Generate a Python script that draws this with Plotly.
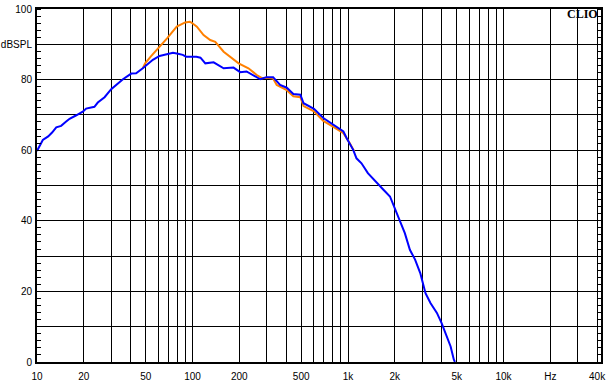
import plotly.graph_objects as go

# Blue curve (frequency Hz, dB SPL)
blue_freq = [10, 10.9, 11.8, 12.5, 13.3, 14.3, 15.4, 16.2, 17.9, 19.8, 20.7, 23.4, 24.6, 27.2,
             30.0, 32.3, 35.7, 40.4, 43.4, 47.9, 50.4, 55.6, 61.4, 69.4, 74.9, 80.6, 86.6, 91.0,
             105.9, 112.5, 120.9, 136.7, 158.6, 183.6, 202.7, 222.6, 272.6, 299, 330, 366, 404,
             445, 494, 518, 604, 694, 805, 934, 981, 1080, 1134, 1221, 1342, 1530, 1690, 1862,
             2000, 2150, 2320, 2500, 2700, 2915, 3150, 3390, 3730, 4000, 4340, 4570, 4790, 4870]
blue_db = [59.8, 62.9, 63.9, 65.0, 66.5, 66.9, 68.1, 68.9, 69.9, 71.0, 71.8, 72.3, 73.5, 75.0,
           77.3, 78.5, 80.1, 81.7, 81.8, 83.2, 84.1, 85.6, 86.7, 87.3, 87.6, 87.3, 87.0, 86.5,
           86.5, 86.2, 84.6, 84.9, 83.2, 83.4, 82.1, 82.3, 80.1, 80.7, 80.7, 78.5, 77.7,
           75.9, 75.7, 73.3, 71.7, 69.1, 67.2, 65.3, 63.4, 60.1, 57.7, 56.3, 53.5, 50.7, 48.8, 46.9,
           43.6, 40.3, 36.5, 31.8, 29.0, 25.2, 19.5, 16.7, 13.9, 11.0, 7.2, 4.4, 0.7, 0.0]

# Orange curve (frequency Hz, dB SPL)
orange_freq = [47.9, 49.6, 54, 59.0, 68.6, 79.2, 89.7, 96, 98.9, 106.7, 117.8, 130, 140.1, 158.6,
               179.5, 198, 229, 259, 280, 300, 330, 348, 404, 445, 494, 518, 604, 694, 805, 934,
               1027, 1100]
orange_db = [83.2, 84.6, 86.6, 88.4, 91.7, 95.0, 96.2, 96.4, 96.1, 95.0, 92.6, 91.2, 90.7, 87.9,
             86.0, 84.6, 83.2, 81.3, 80.4, 80.5, 80.3, 78.5, 77.0, 75.3, 75.0, 72.5, 71.0, 68.3,
             66.6, 64.8, 62.0, 59.6]

# Axis ticks
x_grid = [m * 10 ** e for e in range(1, 5) for m in range(1, 10) if m * 10 ** e <= 40000]
x_labels = {10: "10", 20: "20", 50: "50", 100: "100", 200: "200", 500: "500", 1000: "1k",
            2000: "2k", 5000: "5k", 10000: "10k", 20000: "Hz", 40000: "40k"}
x_text = [x_labels.get(v, "") for v in x_grid]
y_grid = list(range(0, 101, 10))
y_labels = {0: "0", 20: "20", 40: "40", 60: "60", 80: "80", 90: "dBSPL", 100: "100"}
y_text = [y_labels.get(v, "") for v in y_grid]

fig = go.Figure()
fig.add_trace(go.Scatter(x=orange_freq, y=orange_db, mode="lines",
                         line=dict(color="#FF8000", width=2), showlegend=False))
fig.add_trace(go.Scatter(x=blue_freq, y=blue_db, mode="lines",
                         line=dict(color="#0000FF", width=2), showlegend=False))

font = dict(family="Liberation Sans, Arial", size=10, color="black")
fig.update_layout(
    width=611, height=389,
    margin=dict(l=37, r=10, t=9, b=27, autoexpand=False),
    paper_bgcolor="white", plot_bgcolor="white",
    font=font,
    xaxis=dict(type="log", range=[1, 4.627], tickmode="array", tickvals=x_grid, ticktext=x_text,
               showgrid=True, gridcolor="black", gridwidth=1, ticks="", automargin=False,
               showline=True, linecolor="black", linewidth=2, mirror=True,
               zeroline=False, tickfont=font, ticklabelstandoff=4),
    yaxis=dict(range=[0, 100], tickmode="array", tickvals=y_grid, ticktext=y_text,
               showgrid=True, gridcolor="black", gridwidth=1, ticks="", automargin=False,
               showline=True, linecolor="black", linewidth=2, mirror="ticks",
               zeroline=False, tickfont=font, ticklabelstandoff=1,
               minor=dict(dtick=2, ticks="inside", ticklen=4, tickcolor="black", tickwidth=1,
                          showgrid=False)),
    annotations=[dict(text="<b>CLIO</b>", xref="paper", yref="paper", x=0.998, y=0.985,
                      xanchor="right", yanchor="middle", showarrow=False,
                      font=dict(family="Liberation Serif, Times New Roman", size=12, color="black"))],
)

fig.write_html("out.html", config={"displayModeBar": False},
               post_script="document.body.style.margin='0';")
